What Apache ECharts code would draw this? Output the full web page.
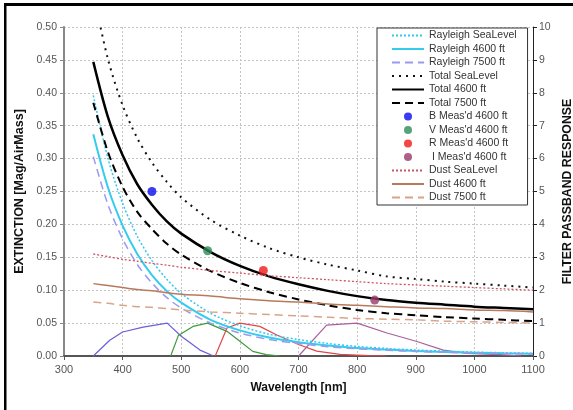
<!DOCTYPE html>
<html>
<head>
<meta charset="utf-8">
<script src="https://cdn.jsdelivr.net/npm/echarts@6/dist/echarts.min.js"></script>
<style>
  html, body { margin: 0; padding: 0; background: #fff; }
  #chart { width: 573px; height: 410px; }
</style>
</head>
<body>
<div id="chart"></div>
<script>
// wavelengths for the extinction curves [nm]
const wl = [350, 375, 400, 425, 450, 475, 500, 550, 600, 650, 700, 750, 800, 850, 900, 950, 1000, 1050, 1100]

// extinction [mag/airmass]
const rayleighSea  = [0.396, 0.300, 0.232, 0.182, 0.145, 0.117, 0.095, 0.065, 0.046, 0.033, 0.025, 0.019, 0.0145, 0.0114, 0.0091, 0.0073, 0.0059, 0.0049, 0.0041]
const rayleigh4600 = [0.337, 0.256, 0.198, 0.155, 0.123, 0.099, 0.081, 0.055, 0.039, 0.028, 0.021, 0.016, 0.012, 0.0097, 0.0077, 0.0062, 0.0051, 0.0041, 0.0035]
const rayleigh7500 = [0.303, 0.230, 0.178, 0.139, 0.111, 0.089, 0.073, 0.050, 0.035, 0.025, 0.019, 0.014, 0.011, 0.0087, 0.0069, 0.0056, 0.0045, 0.0037, 0.0031]
const totalSea     = [0.551, 0.451, 0.381, 0.331, 0.294, 0.265, 0.241, 0.207, 0.183, 0.164, 0.150, 0.139, 0.130, 0.121, 0.117, 0.113, 0.110, 0.107, 0.104]
const total4600    = [0.447, 0.363, 0.305, 0.261, 0.230, 0.205, 0.186, 0.158, 0.137, 0.121, 0.109, 0.099, 0.091, 0.085, 0.081, 0.078, 0.075, 0.073, 0.071]
const total7500    = [0.385, 0.310, 0.257, 0.219, 0.193, 0.171, 0.154, 0.129, 0.111, 0.097, 0.086, 0.077, 0.070, 0.065, 0.062, 0.059, 0.057, 0.055, 0.053]
const dustSea      = [0.155, 0.151, 0.147, 0.144, 0.141, 0.138, 0.135, 0.130, 0.126, 0.122, 0.119, 0.116, 0.113, 0.110, 0.108, 0.106, 0.104, 0.102, 0.100]
const dust4600     = [0.110, 0.107, 0.104, 0.101, 0.099, 0.096, 0.094, 0.091, 0.087, 0.084, 0.082, 0.079, 0.077, 0.075, 0.073, 0.072, 0.070, 0.069, 0.067]
const dust7500     = [0.082, 0.080, 0.077, 0.075, 0.074, 0.072, 0.070, 0.067, 0.065, 0.063, 0.061, 0.059, 0.057, 0.056, 0.055, 0.053, 0.052, 0.051, 0.050]

// measured points at 4600 ft [wavelength, extinction]
const measB = [450, 0.25]
const measV = [545, 0.16]
const measR = [640, 0.13]
const measI = [830, 0.085]

// filter passband response (right axis)
const filtBWl = [350, 378, 400, 435, 476, 500, 532, 555]
const filtB   = [0, 0.48, 0.73, 0.88, 1.0, 0.6, 0.18, 0]
const filtVWl = [482, 495, 520, 545, 578, 600, 622, 645, 668]
const filtV   = [0, 0.62, 0.9, 1.0, 0.75, 0.45, 0.14, 0.04, 0]
const filtRWl = [558, 578, 600, 634, 663, 700, 731, 771, 820, 850]
const filtR   = [0, 0.85, 1.0, 0.9, 0.64, 0.35, 0.15, 0.05, 0.01, 0]
const filtIWl = [700, 748, 800, 851, 902, 947, 987, 1044, 1080]
const filtI   = [0, 0.94, 1.0, 0.7, 0.44, 0.18, 0.08, 0.04, 0]

const lineNames = ['Rayleigh SeaLevel', 'Rayleigh 4600 ft', 'Rayleigh 7500 ft', 'Total SeaLevel', 'Total 4600 ft', 'Total 7500 ft']
const pointNames = ["B Meas'd 4600 ft", "V Meas'd 4600 ft", "R Meas'd 4600 ft", " I Meas'd 4600 ft"]
const dustNames = ['Dust SeaLevel', 'Dust 4600 ft', 'Dust 7500 ft']

const pairs = (xs, ys) => xs.map((x, i) => [x, ys[i]])

const lineSeries = (name, data, color, width, type) => ({
	name: name,
	type: 'line',
	data: pairs(wl, data),
	smooth: 0.3,
	symbol: 'none',
	lineStyle: { color: color, width: width, type: type },
	itemStyle: { color: color },
	z: 3
})

const pointSeries = (name, pt, color) => ({
	name: name,
	type: 'scatter',
	data: [pt],
	symbolSize: 9,
	itemStyle: { color: color },
	z: 5
})

const filterSeries = (xs, ys, color) => ({
	type: 'line',
	yAxisIndex: 1,
	data: pairs(xs, ys),
	symbol: 'none',
	lineStyle: { color: color, width: 1.2 },
	z: 2
})

// 线条图例只显示线，不显示圆点
const lineLegend = (name) => ({ name: name, itemStyle: { opacity: 0 } })

const chart = echarts.init(document.getElementById('chart'))

const font = 'Liberation Sans, Arial, sans-serif'

const option = {
	animation: false,
	textStyle: { fontFamily: font },
	grid: { left: 64, right: 40, top: 27, bottom: 54, containLabel: false, outerBoundsMode: 'none' },
	legend: {
		orient: 'vertical',
		left: 377,
		top: 28,
		padding: [2, 11, 2, 14],
		itemWidth: 32,
		itemHeight: 8,
		itemGap: 2.5,
		borderColor: '#333',
		borderWidth: 1,
		backgroundColor: '#fff',
		textStyle: { fontSize: 10.5, lineHeight: 10, color: '#333', fontFamily: font },
		data: [
			...lineNames.map(lineLegend),
			...pointNames,
			...dustNames.map(lineLegend)
		]
	},
	xAxis: {
		type: 'value',
		min: 300,
		max: 1100,
		interval: 100,
		name: 'Wavelength [nm]',
		nameLocation: 'middle',
		nameGap: 26,
		nameTextStyle: { fontWeight: 'bold', fontSize: 12, color: '#111' },
		axisLine: { lineStyle: { color: '#555', width: 2 } },
		axisTick: { length: 4, lineStyle: { color: '#555' } },
		axisLabel: { color: '#555', fontSize: 11, margin: 8, formatter: (v) => String(v) },
		splitLine: { show: true, lineStyle: { color: '#c4c4c4', type: [2, 2] } }
	},
	yAxis: [
		{
			type: 'value',
			min: 0,
			max: 0.5,
			interval: 0.05,
			name: 'EXTINCTION [Mag/AirMass]',
			nameLocation: 'middle',
			nameGap: 38,
			nameTextStyle: { fontWeight: 'bold', fontSize: 12.5, color: '#111' },
			axisLine: { show: true, lineStyle: { color: '#888', width: 2 } },
			axisTick: { show: true, length: 4, lineStyle: { color: '#888' } },
			axisLabel: { color: '#555', fontSize: 10.5, margin: 7, formatter: (v) => v.toFixed(2) },
			splitLine: { show: true, lineStyle: { color: '#c4c4c4', type: [2, 2] } }
		},
		{
			type: 'value',
			min: 0,
			max: 10,
			interval: 1,
			position: 'right',
			name: 'FILTER PASSBAND RESPONSE',
			nameLocation: 'middle',
			nameGap: 28,
			nameRotate: 90,
			nameTextStyle: { fontWeight: 'bold', fontSize: 12.3, color: '#111' },
			axisLine: { show: true, lineStyle: { color: '#222', width: 1 } },
			axisTick: { show: true, length: 4, lineStyle: { color: '#222' } },
			axisLabel: { color: '#555', fontSize: 10.5, margin: 6 },
			splitLine: { show: false }
		}
	],
	graphic: [
		{ type: 'rect', shape: { x: 4, y: 3, width: 569, height: 3 }, style: { fill: '#000' } },
		{ type: 'rect', shape: { x: 4, y: 3, width: 2.5, height: 407 }, style: { fill: '#000' } }
	],
	series: [
		lineSeries(lineNames[0], rayleighSea, '#33c8f0', 1.5, [2, 2]),
		lineSeries(lineNames[1], rayleigh4600, '#33ccee', 2, 'solid'),
		lineSeries(lineNames[2], rayleigh7500, '#9a9aee', 1.5, [8, 5]),
		lineSeries(lineNames[3], totalSea, '#111', 2, [2, 5]),
		lineSeries(lineNames[4], total4600, '#000', 2.5, 'solid'),
		lineSeries(lineNames[5], total7500, '#000', 2, [8, 5]),
		pointSeries(pointNames[0], measB, '#0a0aee'),
		pointSeries(pointNames[1], measV, '#2e8b57'),
		pointSeries(pointNames[2], measR, '#f01818'),
		pointSeries(pointNames[3], measI, '#9a3a6a'),
		lineSeries(dustNames[0], dustSea, '#cc5566', 1.3, [2, 2]),
		lineSeries(dustNames[1], dust4600, '#b87a5c', 1.5, 'solid'),
		lineSeries(dustNames[2], dust7500, '#daa488', 1.5, [8, 5]),
		filterSeries(filtBWl, filtB, '#6a5fd8'),
		filterSeries(filtVWl, filtV, '#3c9a3c'),
		filterSeries(filtRWl, filtR, '#e04848'),
		filterSeries(filtIWl, filtI, '#a8609c')
	]
}

chart.setOption(option)
</script>
</body>
</html>
